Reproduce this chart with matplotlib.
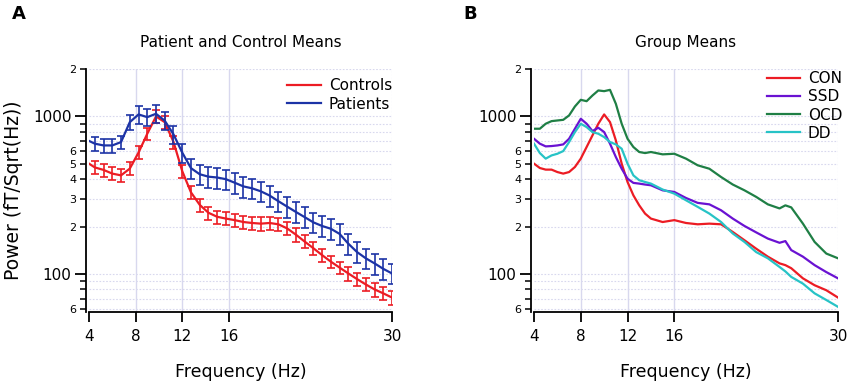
import matplotlib
matplotlib.use("Agg")
import matplotlib.pyplot as plt
from matplotlib.ticker import FixedLocator, FixedFormatter

# ---- panel A: means with error bars (0.75 Hz bins) ----
freq_a = [4.5, 5.25, 6.0, 6.75, 7.5, 8.25, 9.0, 9.75, 10.5, 11.25, 12.0, 12.75,
          13.5, 14.25, 15.0, 15.75, 16.5, 17.25, 18.0, 18.75, 19.5, 20.25, 21.0,
          21.75, 22.5, 23.25, 24.0, 24.75, 25.5, 26.25, 27.0, 27.75, 28.5, 29.25, 30.0]
controls = [475, 458, 434, 423, 467, 590, 777, 1000, 920, 690, 450, 330,
            275, 245, 231, 225, 220, 214, 211, 209, 211, 207, 195,
            178, 161, 146, 132, 120, 110, 101, 93, 86, 80, 75.5, 71]
controls_err = [45, 44, 41, 40, 44, 56, 72, 92, 86, 64, 42, 31,
                26, 23, 22, 21, 21, 20, 20, 20, 20, 20, 19,
                17, 15, 14, 13, 11, 10, 10, 9, 8, 8, 7, 7]
patients = [672, 655, 655, 688, 920, 1030, 990, 1040, 940, 770, 590, 470,
            430, 415, 410, 400, 380, 360, 350, 335, 315, 290, 268,
            248, 230, 213, 202, 194, 180, 156, 138, 126, 117, 108, 101]
patients_err = [67, 66, 66, 69, 105, 130, 125, 135, 120, 100, 80, 68,
                64, 62, 62, 60, 57, 54, 52, 50, 47, 44, 40,
                37, 35, 32, 30, 29, 27, 23, 21, 19, 18, 16, 15]
start_f = 4.0
controls_start = 502
patients_start = 700

# ---- panel B: group means ----
freq_b = [4, 4.5, 5, 5.5, 6, 6.5, 7, 7.5, 8, 8.5, 9, 9.5, 10, 10.5, 11, 11.5,
          12, 12.5, 13, 13.5, 14, 15, 16, 17, 18, 19, 20, 21, 22, 23, 24, 25,
          25.5, 26, 27, 28, 29, 30]
con = [502, 471, 460, 460, 444, 434, 444, 478, 540, 640, 758, 899, 1030, 921, 705, 502,
       384, 316, 273, 242, 225, 214, 220, 211, 207, 209, 207, 185, 164, 145, 129, 117,
       114, 109, 94, 85, 79, 71]
ssd = [722, 672, 646, 649, 655, 665, 722, 836, 967, 899, 808, 848, 796, 672, 553, 466,
       403, 379, 375, 370, 366, 340, 332, 304, 283, 277, 254, 225, 202, 184, 168, 158,
       162, 142, 129, 114, 103, 94]
ocd = [836, 836, 899, 934, 943, 952, 1015, 1157, 1275, 1250, 1358, 1462, 1447, 1475, 1203, 899,
       722, 640, 595, 586, 595, 575, 580, 540, 490, 466, 413, 370, 340, 309, 277, 261,
       273, 265, 209, 160, 135, 126]
dd = [672, 586, 540, 566, 580, 603, 688, 796, 899, 856, 796, 777, 740, 688, 665, 624,
      502, 423, 394, 384, 375, 344, 324, 294, 267, 242, 214, 181, 160, 138, 126, 111,
      104, 96, 87, 75.5, 68.5, 62]

RED = "#ec1c24"
BLUE = "#1c33a6"
PURPLE = "#6a12d2"
GREEN = "#1f7f45"
CYAN = "#27c3c6"
GRID = "#d8d8ee"

plt.rcParams["font.family"] = ["DejaVu Sans"]

fig = plt.figure(figsize=(8.5, 3.86), dpi=100)
ax_a = fig.add_axes([89 / 850, 1 - 312 / 386, 303 / 850, 243 / 386])
ax_b = fig.add_axes([534 / 850, 1 - 312 / 386, 304 / 850, 243 / 386])


def style_axes(ax):
    ax.set_yscale("log")
    ax.set_xlim(4, 30)
    ax.set_ylim(57.5, 2000)
    for s in ["top", "right"]:
        ax.spines[s].set_visible(False)
    ax.spines["left"].set_position(("outward", 2.5))
    ax.spines["left"].set_linewidth(1.3)
    ax.spines["bottom"].set_linewidth(1.3)
    ax.set_xticks([4, 8, 12, 16, 30])
    ax.set_xticklabels(["4", "8", "12", "16", "30"], fontsize=11)
    ax.xaxis.set_minor_locator(FixedLocator([]))
    ax.yaxis.set_major_locator(FixedLocator([100, 1000]))
    ax.yaxis.set_major_formatter(FixedFormatter(["100", "1000"]))
    minors = [60, 70, 80, 90, 200, 300, 400, 500, 600, 700, 800, 900, 2000]
    mlabels = ["6", "", "", "", "2", "3", "4", "5", "6", "", "", "", "2"]
    ax.yaxis.set_minor_locator(FixedLocator(minors))
    ax.yaxis.set_minor_formatter(FixedFormatter(mlabels))
    ax.tick_params(axis="y", which="major", length=8, width=1.3, labelsize=11, pad=2)
    ax.tick_params(axis="y", which="minor", length=4.5, width=1.1, labelsize=8, pad=2)
    ax.tick_params(axis="x", which="major", length=7, width=1.3, labelsize=11, pad=5)
    # grid
    for v in [60, 70, 80, 90, 100, 200, 300, 400, 500, 600, 700, 800, 900, 1000, 2000]:
        ax.axhline(v, color=GRID, lw=0.8, ls=(0, (1.5, 1.5)), zorder=0)
    for v in [8, 12, 16]:
        ax.axvline(v, color=GRID, lw=1.0, zorder=0)
    ax.axvline(30, color=GRID, lw=0.8, ls=(0, (1.5, 1.5)), zorder=0)
    ax.set_xlabel("Frequency (Hz)", fontsize=12.5, labelpad=14)


style_axes(ax_a)
style_axes(ax_b)

# panel A
ax_a.plot([start_f] + freq_a, [controls_start] + controls, color=RED, lw=1.6, label="Controls", zorder=3)
ax_a.errorbar(freq_a, controls, yerr=controls_err, fmt="none", ecolor=RED, elinewidth=1.2,
              capsize=3, capthick=1.2, zorder=3)
ax_a.plot([start_f] + freq_a, [patients_start] + patients, color=BLUE, lw=1.6, label="Patients", zorder=4)
ax_a.errorbar(freq_a, patients, yerr=patients_err, fmt="none", ecolor=BLUE, elinewidth=1.2,
              capsize=3, capthick=1.2, zorder=4)
ax_a.set_title("Patient and Control Means", fontsize=11, pad=15.5)
ax_a.set_ylabel("Power (fT/Sqrt(Hz))", fontsize=13.5, labelpad=7)
ax_a.legend(loc="upper left", bbox_to_anchor=(0.655, 0.963), frameon=False, fontsize=11,
            handlelength=2.2, handletextpad=0.5, labelspacing=0.25, borderaxespad=0, borderpad=0)

# panel B
ax_b.plot(freq_b, con, color=RED, lw=1.6, label="CON")
ax_b.plot(freq_b, ssd, color=PURPLE, lw=1.6, label="SSD")
ax_b.plot(freq_b, ocd, color=GREEN, lw=1.6, label="OCD")
ax_b.plot(freq_b, dd, color=CYAN, lw=1.6, label="DD")
ax_b.set_title("Group Means", fontsize=11, pad=15.5)
ax_b.legend(loc="upper left", bbox_to_anchor=(0.765, 0.99), frameon=False, fontsize=11,
            handlelength=2.2, handletextpad=0.5, labelspacing=0.2, borderaxespad=0, borderpad=0)

fig.text(0.014, 0.965, "A", fontsize=13, fontweight="bold", va="center", ha="left")
fig.text(0.545, 0.965, "B", fontsize=13, fontweight="bold", va="center", ha="left")

fig.savefig("out.png", dpi=100)
